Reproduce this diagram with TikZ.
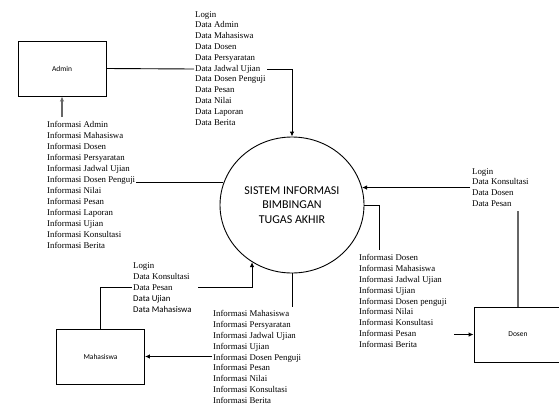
\documentclass[tikz,border=0pt]{standalone}
\usepackage{fontspec}
\setmainfont{Liberation Serif}
\newfontfamily\labelfont{Carlito}
\usetikzlibrary{arrows.meta,shapes.geometric}

\begin{document}
\begin{tikzpicture}[x=1pt,y=-1pt,
  flow/.style={line width=0.9pt,black},
  flowgray/.style={line width=1.1pt,black!60},
  tip/.style={-{Latex[length=5pt,width=4.5pt]}},
  entity/.style={draw,line width=0.9pt,minimum width=88pt,minimum height=55pt,inner sep=0pt,
    font=\labelfont\fontsize{7.5}{9}\selectfont},
  flowtext/.style={anchor=north west,align=left,inner sep=0pt,
    font=\fontsize{8.8}{10.9}\selectfont},
  process/.style={draw,ellipse,line width=0.9pt,minimum width=144pt,minimum height=136pt,
    inner sep=0pt,align=center,font=\labelfont\fontsize{12}{14.5}\selectfont}]

\useasboundingbox (0,0) rectangle (559,408);

% external entities
\node[entity] (admin) at (62,68.5) {Admin};
\node[entity] (dosen) at (518,334.5) {Dosen};
\node[entity] (mhs) at (100.5,356.5) {Mahasiswa};

% the process
\node[process] (sys) at (292,205) {SISTEM INFORMASI\\BIMBINGAN\\TUGAS AKHIR};

% data flow labels (placed by their top edge)
\node[flowtext,font=\fontsize{8.8}{10.8}\selectfont] (dataAdmin) at (195,11) {Login\\Data Admin\\Data Mahasiswa\\Data Dosen\\Data Persyaratan\\Data Jadwal Ujian\\Data Dosen Penguji\\Data Pesan\\Data Nilai\\Data Laporan\\Data Berita};

\node[flowtext,font=\fontsize{8.8}{11}\selectfont] (infoAdmin) at (47,121) {Informasi Admin\\Informasi Mahasiswa\\Informasi Dosen\\Informasi Persyaratan\\Informasi Jadwal Ujian\\Informasi Dosen Penguji\\Informasi Nilai\\Informasi Pesan\\Informasi Laporan\\Informasi Ujian\\Informasi Konsultasi\\Informasi Berita};

\node[flowtext,font=\fontsize{8.8}{10.8}\selectfont] (dataDosen) at (472,168) {Login\\Data Konsultasi\\Data Dosen\\Data Pesan};

\node[flowtext] (infoDosen) at (359,254) {Informasi Dosen\\Informasi Mahasiswa\\Informasi Jadwal Ujian\\Informasi Ujian\\Informasi Dosen penguji\\Informasi Nilai\\Informasi Konsultasi\\Informasi Pesan\\Informasi Berita};

\node[flowtext,font=\fontsize{8.8}{11}\selectfont] (dataMhs) at (133,262) {Login\\Data Konsultasi\\Data Pesan\\{\labelfont Data Ujian}\\{\labelfont Data Mahasiswa}};

\node[flowtext] (infoMhs) at (213,310) {Informasi Mahasiswa\\Informasi Persyaratan\\Informasi Jadwal Ujian\\Informasi Ujian\\Informasi Dosen Penguji\\Informasi Pesan\\Informasi Nilai\\Informasi Konsultasi\\Informasi Berita};

% connector end points at the label rows
\coordinate (a1) at (194,69);
\coordinate (a2) at (267,69);
\coordinate (b1) at (136,183);
\coordinate (b2) at (62,117);
\coordinate (c1) at (470,188);
\coordinate (c2) at (518,211);
\coordinate (d1) at (379,250);
\coordinate (d2) at (454,334.5);
\coordinate (e1) at (132,287);
\coordinate (e2) at (198,287);
\coordinate (f1) at (292,307);
\coordinate (f2) at (212,356.5);

% Admin <-> system
\draw[flow] (admin.east) -- (a1);
\draw[flow,tip] (a2) -| (sys.north);
\draw[flow] (sys.162) -- (sys.162 -| b1);
\draw[flowgray,tip] (b2) -- (admin.south);

% Dosen <-> system
\draw[flow,tip] (sys.14 -| c1) -- (sys.14);
\draw[flowgray] (c2) -- (dosen.north);
\draw[flow] (sys.east) -| (d1);
\draw[flow,tip] (d2) -- (dosen.west);

% Mahasiswa <-> system
\draw[flow] (mhs.north) |- (e1);
\draw[flow,tip] (e2) -| (sys.235);
\draw[flow] (sys.south) -- (f1);
\draw[flow,tip] (f2) -- (mhs.east);

\end{tikzpicture}
\end{document}
